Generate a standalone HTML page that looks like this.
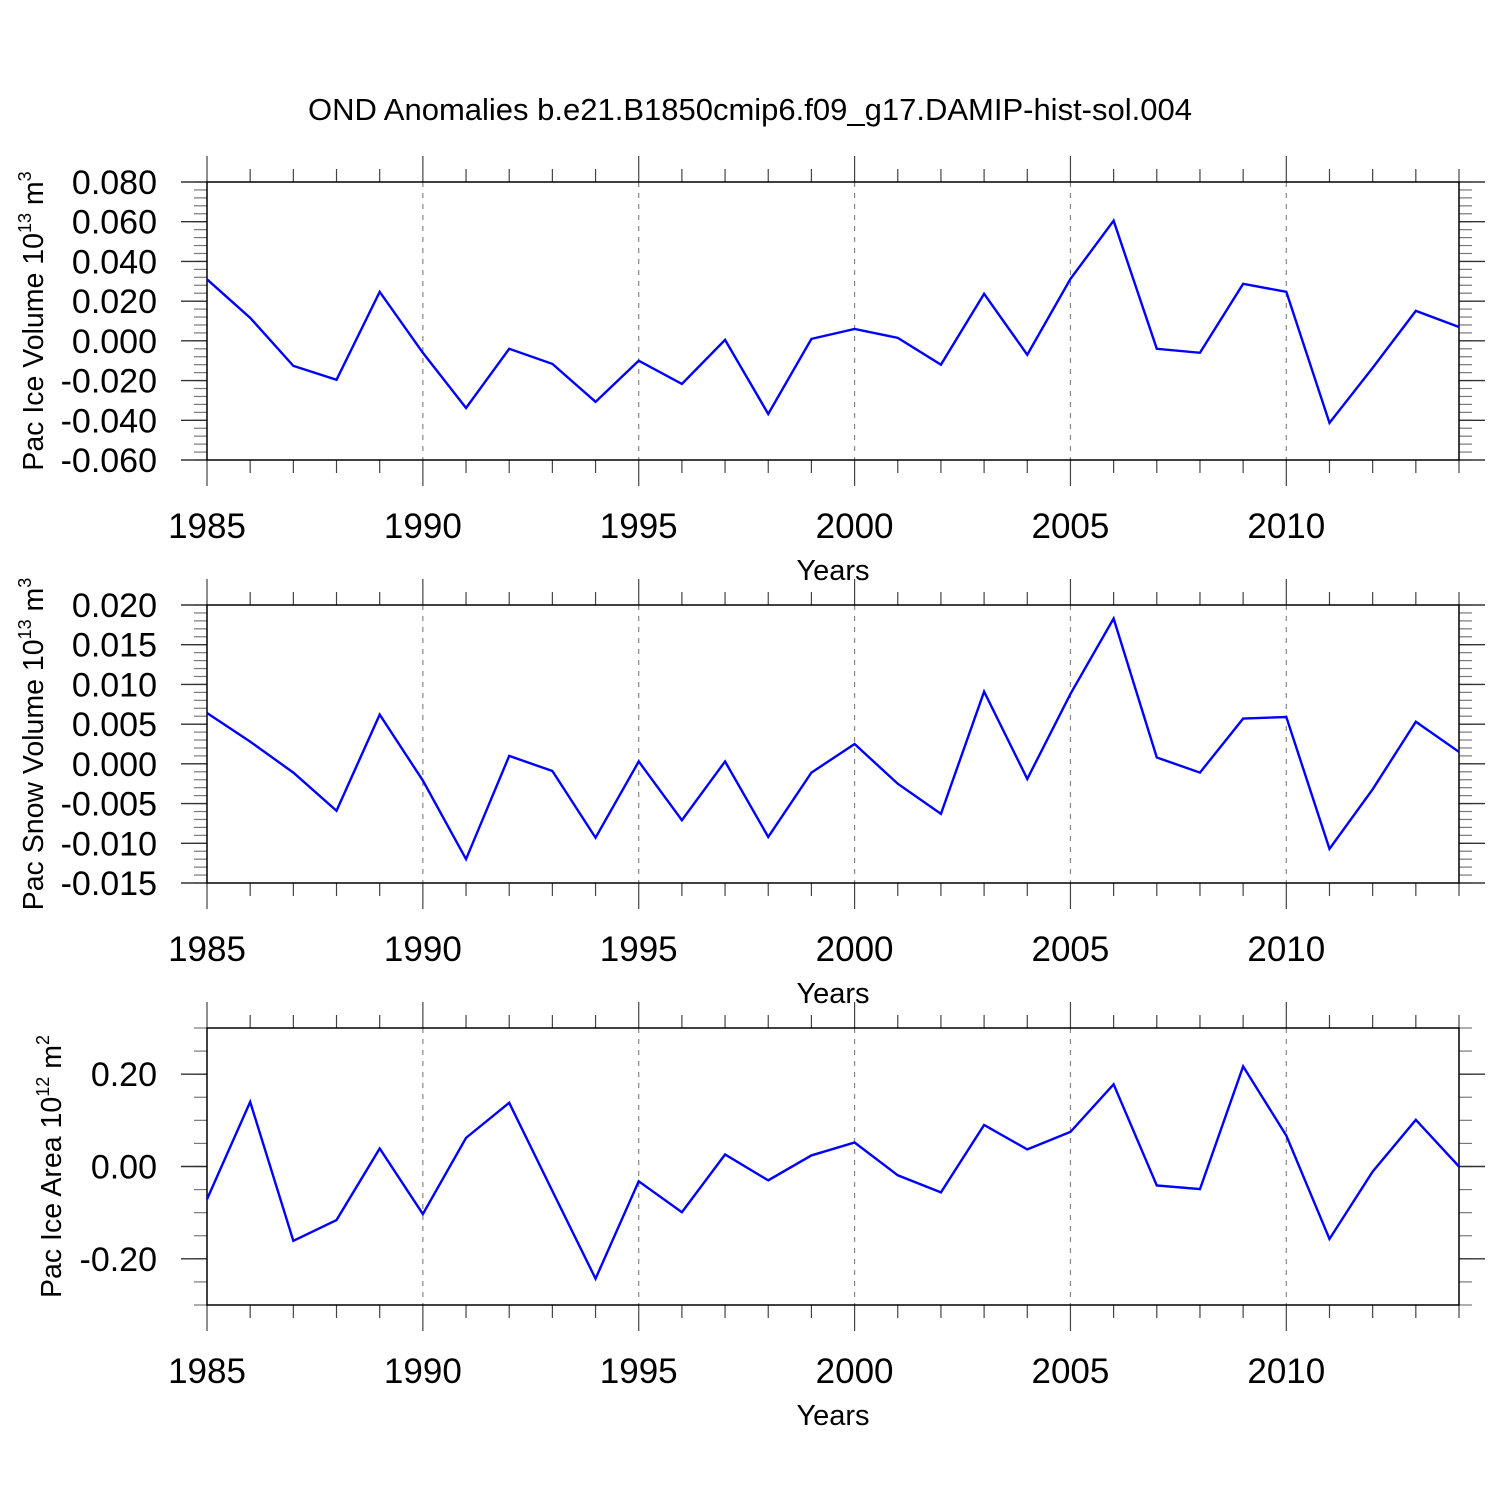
<!DOCTYPE html>
<html><head><meta charset="utf-8"><style>
html,body{margin:0;padding:0;background:#fff;}
svg{display:block;font-family:"Liberation Sans",Arial,sans-serif;}
</style></head><body>
<svg id="chart" width="1500" height="1500" viewBox="0 0 1500 1500" xmlns="http://www.w3.org/2000/svg">
<rect width="1500" height="1500" fill="#fff"/>
<text x="750" y="120" font-size="31" text-anchor="middle">OND Anomalies b.e21.B1850cmip6.f09_g17.DAMIP-hist-sol.004</text>
</svg>
<script>
const years = [];
for (let y = 1985; y <= 2014; y++) years.push(y);
const iceVolume = [0.031,0.0116,-0.0126,-0.0196,0.0247,-0.006,-0.0338,-0.004,-0.0116,-0.0307,-0.010,-0.0217,0.0005,-0.0368,0.001,0.006,0.0015,-0.012,0.0237,-0.007,0.0312,0.0605,-0.004,-0.006,0.0287,0.0247,-0.0413,-0.0136,0.0151,0.007];
const snowVolume = [0.0064,0.0028,-0.0011,-0.0059,0.0062,-0.0021,-0.012,0.001,-0.0009,-0.0093,0.0003,-0.0071,0.0003,-0.0092,-0.0011,0.0025,-0.0025,-0.0063,0.0091,-0.0019,0.0088,0.0183,0.0008,-0.0011,0.0057,0.0059,-0.0107,-0.0032,0.0053,0.0015];
const iceArea = [-0.071,0.14,-0.161,-0.116,0.039,-0.103,0.062,0.138,-0.053,-0.243,-0.032,-0.099,0.026,-0.030,0.024,0.052,-0.019,-0.056,0.09,0.037,0.075,0.178,-0.041,-0.049,0.217,0.067,-0.157,-0.011,0.101,0.0];
const xTickLabels = ["1985","1990","1995","2000","2005","2010"];
const yTicks1 = [-0.06,-0.04,-0.02,0,0.02,0.04,0.06,0.08];
const yTickLabels1 = ["-0.060","-0.040","-0.020","0.000","0.020","0.040","0.060","0.080"];
const yTicks2 = [-0.015,-0.01,-0.005,0,0.005,0.01,0.015,0.02];
const yTickLabels2 = ["-0.015","-0.010","-0.005","0.000","0.005","0.010","0.015","0.020"];
const yTicks3 = [-0.2,0,0.2];
const yTickLabels3 = ["-0.20","0.00","0.20"];

const svg = document.getElementById('chart');
const NS = "http://www.w3.org/2000/svg";
function mk(tag, attrs, parent){const e=document.createElementNS(NS,tag);for(const k in attrs)e.setAttribute(k,attrs[k]);(parent||svg).appendChild(e);return e;}

const X0=207, X1=1459;
function xs(yr){return X0+(yr-1985)*(X1-X0)/29;}

function panel(name, top, bot, ymin, ymax, minorStep, ticks, labels, series, titleMain, titleExp, titleUnit, titleX){
  const g = mk('g',{});
  
  
  const ys = v => bot-(v-ymin)*(bot-top)/(ymax-ymin);
  for (let yr=1990; yr<=2010; yr+=5){
    const l=mk('line',{x1:xs(yr),x2:xs(yr),y1:top,y2:bot,stroke:'#888','stroke-width':1.2,'stroke-dasharray':'5,6'},g);
    
    
  }
  for (const yr of years){
    const major = (yr-1985)%5===0;
    const len = major?26:13;
    mk('line',{x1:xs(yr),x2:xs(yr),y1:top-len,y2:top,stroke:'#444','stroke-width':1.2},g);
    mk('line',{x1:xs(yr),x2:xs(yr),y1:bot,y2:bot+len,stroke:'#444','stroke-width':1.2},g);
  }
  xTickLabels.forEach(lab=>{
    const t=mk('text',{x:xs(+lab),y:bot+78,'font-size':35,'text-anchor':'middle'},g);
    t.textContent=lab;
    
    
  });
  const xt=mk('text',{x:833,y:bot+120,'font-size':29,'text-anchor':'middle'},g);
  xt.textContent='Years';
  
  
  const n=Math.round((ymax-ymin)/minorStep);
  for(let i=0;i<=n;i++){
    const v=ymin+i*minorStep, y=ys(v);
    mk('line',{x1:X0-13,x2:X0,y1:y,y2:y,stroke:'#777','stroke-width':1.2},g);
    mk('line',{x1:X1,x2:X1+13,y1:y,y2:y,stroke:'#777','stroke-width':1.2},g);
  }
  ticks.forEach((v,i)=>{
    const y=ys(v);
    mk('line',{x1:X0-26,x2:X0,y1:y,y2:y,stroke:'#333','stroke-width':1.4},g);
    mk('line',{x1:X1,x2:X1+26,y1:y,y2:y,stroke:'#333','stroke-width':1.4},g);
    const t=mk('text',{x:157,y:y+12,'font-size':34,'text-anchor':'end'},g);
    t.textContent=labels[i];
    
    
  });
  mk('rect',{x:X0,y:top,width:X1-X0,height:bot-top,fill:'none',stroke:'#000','stroke-width':1.5},g);
  const pts=series.map((v,i)=>xs(years[i])+','+ys(v)).join(' ');
  const pl=mk('polyline',{points:pts,fill:'none',stroke:'#0000ff','stroke-width':2.4,'stroke-linejoin':'miter'},g);
  
  
  const cy=(top+bot)/2;
  const tt=mk('text',{x:0,y:0,'font-size':28.5,'text-anchor':'middle',transform:`translate(${titleX},${cy}) rotate(-90)`},g);
  
  
  tt.appendChild(document.createTextNode(titleMain+' 10'));
  const s=document.createElementNS(NS,'tspan');s.setAttribute('font-size',18);s.setAttribute('dy',-12);s.textContent=titleExp;tt.appendChild(s);
  const s2=document.createElementNS(NS,'tspan');s2.setAttribute('font-size',28.5);s2.setAttribute('dy',12);s2.textContent=' m';tt.appendChild(s2);
  const s3=document.createElementNS(NS,'tspan');s3.setAttribute('font-size',18);s3.setAttribute('dy',-12);s3.textContent=titleUnit;tt.appendChild(s3);
}
panel('ice-volume-panel',182,460,-0.06,0.08,0.004,yTicks1,yTickLabels1,iceVolume,'Pac Ice Volume','13','3',43);
panel('snow-volume-panel',605,883,-0.015,0.02,0.001,yTicks2,yTickLabels2,snowVolume,'Pac Snow Volume','13','3',43);
panel('ice-area-panel',1028,1305,-0.3,0.3,0.05,yTicks3,yTickLabels3,iceArea,'Pac Ice Area','12','2',61);
</script>
</body></html>
